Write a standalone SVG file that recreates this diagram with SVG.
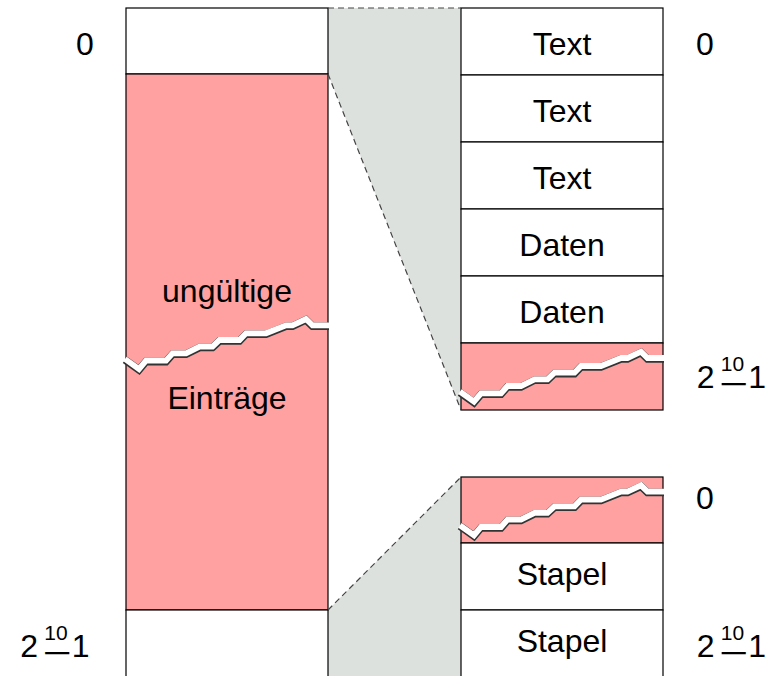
<svg xmlns="http://www.w3.org/2000/svg" width="773" height="676" viewBox="0 0 773 676">
<defs>
<style>
.cell{stroke:#000;stroke-width:1.2}
.w{fill:#fff}
.p{fill:#ffa1a1}
.g{fill:#dde1de;stroke:none}
.t{font-family:"Liberation Sans",Arial,sans-serif;font-size:32px;fill:#000}
.c{text-anchor:middle}
.s{font-size:21px}
.dash{stroke:#444;stroke-width:1.2;stroke-dasharray:6 4;fill:none}
.bk1{fill:none;stroke:#333;stroke-width:7.6;stroke-linejoin:miter}
.bk2{fill:none;stroke:#fff;stroke-width:5.8;stroke-linejoin:miter}
</style>
<path id="zz" d="M-1,0 L13,10 L20,1.7 L40,1.7 L46.5,-5.7 L60,-5.7 L73.5,-12.4 L86.5,-12.4 L93.5,-19 L113.5,-19 L120,-25.7 L140,-25.7 L160,-33.7 L166.5,-33.7 L180,-40 L186.5,-33.7 L203,-33.7"/>
<g id="brk">
<use href="#zz" class="bk1" transform="translate(0,0.9)"/>
<use href="#zz" class="bk2"/>
</g>
</defs>

<g id="gray-areas">
<polygon class="g" points="328,8 461,8 461,410 328,74"/>
<polygon class="g" points="328,610 461,477 461,676 328,676"/>
</g>

<g id="left-top"><rect class="cell w" x="126" y="8" width="202" height="66"/></g>
<g id="left-invalid">
<rect class="cell p" x="126" y="74" width="202" height="536"/>
<use href="#brk" transform="translate(126,359)"/>
<text class="t c" x="227" y="302">ungültige</text>
<text class="t c" x="227" y="409">Einträge</text>
</g>
<g id="left-bottom"><rect class="cell w" x="126" y="610" width="202" height="70"/></g>

<g id="r1"><rect class="cell w" x="461" y="8" width="202" height="67"/><text class="t c" x="562" y="55">Text</text></g>
<g id="r2"><rect class="cell w" x="461" y="75" width="202" height="67"/><text class="t c" x="562" y="122">Text</text></g>
<g id="r3"><rect class="cell w" x="461" y="142" width="202" height="67"/><text class="t c" x="562" y="189">Text</text></g>
<g id="r4"><rect class="cell w" x="461" y="209" width="202" height="67"/><text class="t c" x="562" y="256">Daten</text></g>
<g id="r5"><rect class="cell w" x="461" y="276" width="202" height="67"/><text class="t c" x="562" y="323">Daten</text></g>
<g id="r6"><rect class="cell p" x="461" y="343" width="202" height="67"/><use href="#brk" transform="translate(461,391.7)"/></g>

<g id="r7"><rect class="cell p" x="461" y="477" width="202" height="66"/><use href="#brk" transform="translate(461,525.3)"/></g>
<g id="r8"><rect class="cell w" x="461" y="543" width="202" height="67"/><text class="t c" x="562" y="585">Stapel</text></g>
<g id="r9"><rect class="cell w" x="461" y="610" width="202" height="70"/><text class="t c" x="562" y="652">Stapel</text></g>

<g id="connectors">
<line class="dash" x1="328" y1="8" x2="461" y2="8"/>
<line class="dash" x1="328" y1="74" x2="461" y2="410"/>
<line class="dash" x1="328" y1="610" x2="461" y2="477"/>
</g>

<g id="labels">
<text class="t c" x="85" y="55">0</text>
<text class="t c" x="705" y="55">0</text>
<text class="t c" x="705" y="509">0</text>
<g id="lbl-left-bottom" transform="translate(21.7,657)">
<text class="t" x="-1.5" y="0">2</text>
<text class="t s" x="22.5" y="-17">10</text>
<text class="t" x="21" y="7" textLength="29" lengthAdjust="spacingAndGlyphs">−</text>
<text class="t" x="50" y="0">1</text>
</g>
<g id="lbl-right-top" transform="translate(698.3,388)">
<text class="t" x="-1.5" y="0">2</text>
<text class="t s" x="22.5" y="-17">10</text>
<text class="t" x="21" y="7" textLength="29" lengthAdjust="spacingAndGlyphs">−</text>
<text class="t" x="50" y="0">1</text>
</g>
<g id="lbl-right-bottom" transform="translate(698.3,657)">
<text class="t" x="-1.5" y="0">2</text>
<text class="t s" x="22.5" y="-17">10</text>
<text class="t" x="21" y="7" textLength="29" lengthAdjust="spacingAndGlyphs">−</text>
<text class="t" x="50" y="0">1</text>
</g>
</g>
</svg>
